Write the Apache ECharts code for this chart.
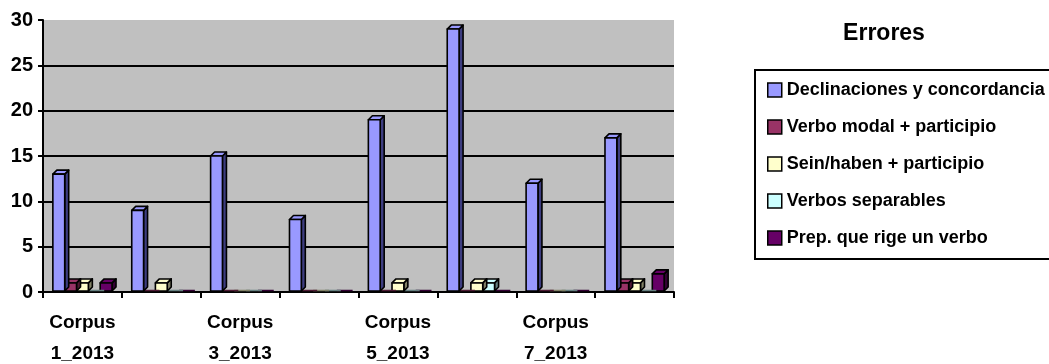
<!DOCTYPE html>
<html>
<head>
<meta charset="utf-8">
<script src="https://cdn.jsdelivr.net/npm/echarts@6/dist/echarts.min.js"></script>
<style>html,body{margin:0;padding:0;background:#fff}#c{width:1049px;height:364px}</style>
</head>
<body>
<div id="c"></div>
<script>
var categories = ['Corpus 1_2013','Corpus 2_2013','Corpus 3_2013','Corpus 4_2013','Corpus 5_2013','Corpus 6_2013','Corpus 7_2013','Corpus 8_2013'];
var seriesNames = ['Declinaciones y concordancia','Verbo modal + participio','Sein/haben + participio','Verbos separables','Prep. que rige un verbo'];
var declinaciones = [13, 9, 15, 8, 19, 29, 12, 17];
var verboModal = [1, 0, 0, 0, 0, 0, 0, 1];
var seinHaben = [1, 1, 0, 0, 1, 1, 0, 1];
var verbosSeparables = [0, 0, 0, 0, 0, 1, 0, 0];
var prepVerbo = [1, 0, 0, 0, 0, 0, 0, 2];
var yTicks = [0, 5, 10, 15, 20, 25, 30];

var seriesValues = [declinaciones, verboModal, seinHaben, verbosSeparables, prepVerbo];
var frontColors = ['#9999FF', '#993366', '#FFFFCC', '#CCFFFF', '#660066'];
var sideColors = ['#3D3D80', '#4D1A33', '#808066', '#668080', '#330033'];
var FONT = '"Liberation Sans", Arial, sans-serif';

function renderBar(params, api) {
  var si = params.seriesIndex;
  var ci = api.value(0), v = api.value(1);
  var p0 = api.coord([ci, 0]);
  var p1 = api.coord([ci, v]);
  var cw = api.size([1, 0])[0];
  var w = cw * 0.15;
  var d = 4;
  var x = p0[0] - cw * 0.375 + si * w;
  var yb = p0[1] - 1, yt = p1[1];
  if (v === 0) {
    return {type: 'line', shape: {x1: x, y1: yb - 0.5, x2: x + w + d, y2: yb - 0.5},
      style: {stroke: sideColors[si], lineWidth: 1.5}};
  }
  var stroke = {stroke: '#000', lineWidth: 1.6, lineJoin: 'round'};
  return {
    type: 'group',
    children: [
      {type: 'polygon', shape: {points: [[x + w, yt], [x + w + d, yt - d], [x + w + d, yb - d], [x + w, yb]]},
        style: Object.assign({fill: sideColors[si]}, stroke)},
      {type: 'polygon', shape: {points: [[x, yt], [x + d, yt - d], [x + w + d, yt - d], [x + w, yt]]},
        style: Object.assign({fill: frontColors[si]}, stroke)},
      {type: 'rect', shape: {x: x, y: yt, width: w, height: Math.max(yb - yt, 0)},
        style: Object.assign({fill: frontColors[si]}, stroke)}
    ]
  };
}

var series = seriesNames.map(function (name, i) {
  return {
    name: name,
    type: 'custom',
    renderItem: renderBar,
    itemStyle: {color: frontColors[i], borderColor: '#000', borderWidth: 1.5},
    encode: {x: 0, y: 1},
    data: seriesValues[i].map(function (v, k) { return [k, v]; }),
    z: 10 - i
  };
});

var chart = echarts.init(document.getElementById('c'), null, {renderer: 'canvas'});
chart.setOption({
  animation: false,
  backgroundColor: '#ffffff',
  title: {
    text: 'Errores', left: 884, top: 22, textAlign: 'center', padding: 0,
    textStyle: {fontFamily: FONT, fontSize: 23, fontWeight: 'bold', color: '#000'}
  },
  legend: {
    orient: 'vertical', left: 755, top: 70,
    padding: [11, 14, 12, 12],
    borderColor: '#000', borderWidth: 2,
    itemWidth: 14, itemHeight: 14, itemGap: 19,
    icon: 'rect',
    itemStyle: {borderColor: '#000', borderWidth: 1.5},
    textStyle: {fontFamily: FONT, fontSize: 18, fontWeight: 'bold', color: '#000', lineHeight: 18},
    data: seriesNames
  },
  grid: {
    left: 43, right: 375, top: 20, bottom: 72,
    outerBoundsMode: 'none', containLabel: false,
    show: true, backgroundColor: '#C0C0C0', borderWidth: 0
  },
  xAxis: {
    type: 'category', data: categories,
    axisLine: {lineStyle: {color: '#000', width: 2}},
    axisTick: {show: true, interval: 0, length: 6, lineStyle: {color: '#000', width: 2}},
    axisLabel: {
      interval: 1, margin: 15, color: '#000',
      fontFamily: FONT, fontSize: 19, fontWeight: 'bold', lineHeight: 31,
      formatter: function (s) { return s.replace(' ', '\n'); }
    },
    splitLine: {show: false}
  },
  yAxis: {
    type: 'value', min: yTicks[0], max: yTicks[yTicks.length - 1], interval: yTicks[1] - yTicks[0],
    axisLine: {show: true, lineStyle: {color: '#000', width: 2}},
    axisTick: {show: true, length: 5, lineStyle: {color: '#000', width: 2}},
    axisLabel: {margin: 10, color: '#000', fontFamily: FONT, fontSize: 20, fontWeight: 'bold'},
    splitLine: {show: true, showMinLine: false, showMaxLine: false, lineStyle: {color: '#000', width: 2}}
  },
  series: series
});
</script>
</body>
</html>
